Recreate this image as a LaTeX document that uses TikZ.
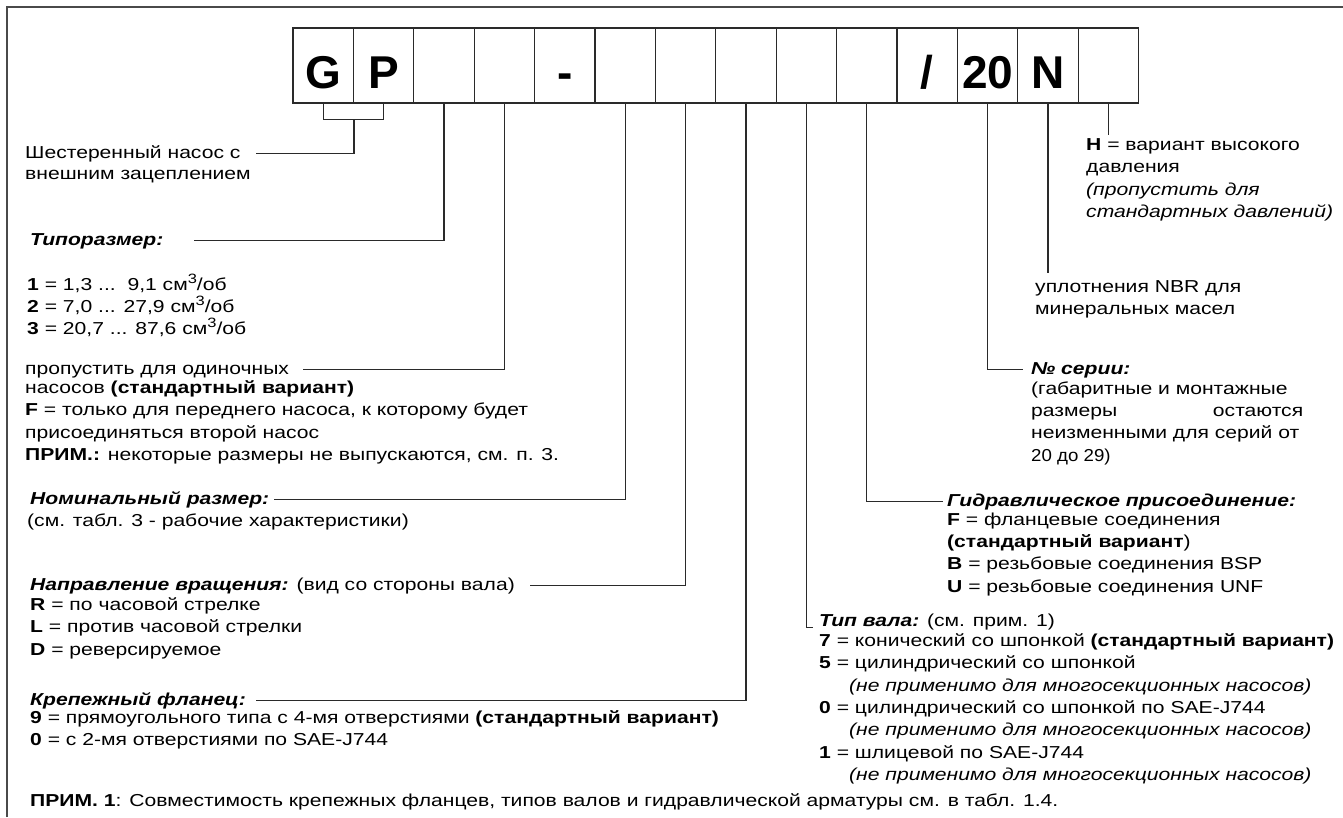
\documentclass[tikz,border=0pt]{standalone}
\usepackage{fontspec}
\setmainfont{Liberation Sans}[FakeStretch=1.22]
\newfontfamily\codefont{Liberation Sans}
\newfontfamily\narrowfont{Liberation Sans}[FakeStretch=1.08]
\usetikzlibrary{positioning}
\definecolor{ink}{HTML}{2A2A2A}
\newcommand\cubic{\raisebox{0.42em}{\fontsize{13.5}{13.5}\selectfont 3}}

\begin{document}
\begin{tikzpicture}[x=1pt,y=-1pt,node distance=60.4pt,
    cell/.style={draw=ink,line width=1.2pt,minimum width=60.4pt,minimum height=75pt,inner sep=0pt,
      text height=45.6pt,text depth=0pt,font=\codefont\fontsize{46}{46}\selectfont\bfseries},
    txt/.style={anchor=north west,inner sep=0pt,align=left,
      font=\fontsize{17.3}{22.3}\selectfont,execute at begin node=\strut},
    lead/.style={draw=ink,line width=1.2pt},
    frame/.style={draw=ink!85,line width=1.6pt}]

  \useasboundingbox[fill=white] (0,0) rectangle (1343,817);
  \draw[frame] (7,817) -- (7,7) -- (1343,7);

  % code boxes
  \node[cell] (c0) at (323.2,65.5) {G};
  \node[cell,right of=c0] (c1) {P};
  \node[cell,right of=c1] (c2) {};
  \node[cell,right of=c2] (c3) {};
  \node[cell,right of=c3] (c4) {-};
  \node[cell,right of=c4] (c5) {};
  \node[cell,right of=c5] (c6) {};
  \node[cell,right of=c6] (c7) {};
  \node[cell,right of=c7] (c8) {};
  \node[cell,right of=c8] (c9) {};
  \node[cell,right of=c9] (c10) {/};
  \node[cell,right of=c10] (c11) {20};
  \node[cell,right of=c11] (c12) {N};
  \node[cell,right of=c12] (c13) {};

  % left column
  \node[txt] (gear) at (25,142.5) {Шестеренный насос с};
  \node[txt] (gear2) at (25,163.5) {внешним зацеплением};
  \node[txt] (tipo) at (30,229.5) {\textbf{\textit{Типоразмер:}}};
  \node[txt] (tipolist) at (27,273.5) {\textbf{1} = 1,3 ...\ \ 9,1 см\cubic/об\\
    \textbf{2} = 7,0 ... 27,9 см\cubic/об\\
    \textbf{3} = 20,7 ... 87,6 см\cubic/об};
  \node[txt] (single) at (25,358.5) {пропустить для одиночных};
  \node[txt] (singlelist) at (25,380.5) {насосов \textbf{(стандартный вариант)}\\
    \textbf{F} = только для переднего насоса, к которому будет\\
    присоединяться второй насос\\
    \textbf{ПРИМ.:} некоторые размеры не выпускаются, см. п. 3.};
  \node[txt] (nom) at (30,488.5) {\textbf{\textit{Номинальный размер:}}};
  \node[txt] (nom2) at (27,510.5) {(см. табл. 3 - рабочие характеристики)};
  \node[txt] (rot) at (30,574.5) {\textbf{\textit{Направление вращения:}} (вид со стороны вала)};
  \node[txt] (rotlist) at (30,597.5) {\textbf{R} = по часовой стрелке\\
    \textbf{L} = против часовой стрелки\\
    \textbf{D} = реверсируемое};
  \node[txt] (flange) at (30,689.5) {\textbf{\textit{Крепежный фланец:}}};
  \node[txt] (flangelist) at (30,710.5) {\textbf{9} = прямоугольного типа с 4-мя отверстиями \textbf{(стандартный вариант)}\\
    \textbf{0} = с 2-мя отверстиями по SAE-J744};
  \node[txt] (note) at (30,790.5) {\textbf{ПРИМ. 1}: Совместимость крепежных фланцев, типов валов и гидравлической арматуры см. в табл. 1.4.};

  % right column
  \node[txt] (hvar) at (1086,138.5) {\textbf{H} = вариант высокого\\
    давления\\
    \textit{(пропустить для}\\
    \textit{стандартных давлений)}};
  \node[txt] (nbr) at (1035,280.5) {уплотнения NBR для\\
    минеральных масел};
  \node[txt] (ser) at (1031,358.5) {\textbf{\textit{№ серии:}}};
  \node[txt] (serlist) at (1031,381.5) {(габаритные и монтажные\\
    \makebox[272pt][l]{размеры\hfill остаются}\\
    неизменными для серий от\\
    {\narrowfont 20 до 29)}};
  \node[txt] (hyd) at (947,490.5) {\textbf{\textit{Гидравлическое присоединение:}}};
  \node[txt] (hydlist) at (947,512.5) {\textbf{F} = фланцевые соединения\\
    \textbf{(стандартный вариант})\\
    \textbf{B} = резьбовые соединения BSP\\
    \textbf{U} = резьбовые соединения UNF};
  \node[txt] (shaft) at (819,610.5) {\textbf{\textit{Тип вала:}} (см. прим. 1)};
  \node[txt] (shaftlist) at (819,633.5) {\textbf{7} = конический со шпонкой \textbf{(стандартный вариант)}\\
    \textbf{5} = цилиндрический со шпонкой\\
    \hspace*{30pt}\textit{(не применимо для многосекционных насосов)}\\
    \textbf{0} = цилиндрический со шпонкой по SAE-J744\\
    \hspace*{30pt}\textit{(не применимо для многосекционных насосов)}\\
    \textbf{1} = шлицевой по SAE-J744\\
    \hspace*{30pt}\textit{(не применимо для многосекционных насосов)}};

  % leader lines
  \draw[lead] (c0.south) -- ++(0,16) -| (c1.south);
  \draw[lead] ([yshift=-16pt]c0.south east) |- ([xshift=15pt]gear.east);
  \draw[lead] (c2.south) |- ([xshift=30pt]tipo.east);
  \draw[lead] (c3.south) |- ([xshift=14pt]single.east);
  \draw[lead] (c5.south) |- ([xshift=5pt]nom.east);
  \draw[lead] (c6.south) |- ([xshift=15pt]rot.east);
  \draw[lead] (c7.south) |- ([xshift=10pt]flange.east);
  \draw[lead] (c8.south) |- ([xshift=-6pt,yshift=-6pt]shaft.west);
  \draw[lead] (c9.south) |- ([xshift=-4pt]hyd.west);
  \draw[lead] (c11.south) |- ([xshift=-8pt]ser.west);
  \draw[lead] (c12.south) -- ([yshift=8pt]c12.south |- nbr.north);
  \draw[lead] (c13.south) -- ([yshift=4pt]c13.south |- hvar.north);

\end{tikzpicture}
\end{document}
